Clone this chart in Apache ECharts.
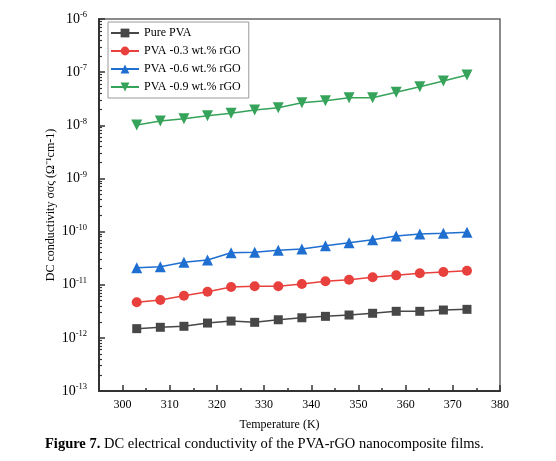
<!DOCTYPE html>
<html>
<head>
<meta charset="utf-8">
<script src="https://cdn.jsdelivr.net/npm/echarts@6/dist/echarts.min.js"></script>
<style>html,body{margin:0;padding:0;background:#fff;}#c{width:556px;height:461px;}</style>
</head>
<body>
<div id="c"></div>
<script>
var temperatures = [303, 308, 313, 318, 323, 328, 333, 338, 343, 348, 353, 358, 363, 368, 373];
var purePVA = [1.49e-12, 1.58e-12, 1.65e-12, 1.90e-12, 2.07e-12, 1.96e-12, 2.19e-12, 2.39e-12, 2.54e-12, 2.69e-12, 2.90e-12, 3.16e-12, 3.16e-12, 3.34e-12, 3.44e-12];
var pva03 = [4.67e-12, 5.16e-12, 6.21e-12, 7.38e-12, 9.05e-12, 9.33e-12, 9.33e-12, 1.03e-11, 1.16e-11, 1.24e-11, 1.38e-11, 1.50e-11, 1.64e-11, 1.73e-11, 1.83e-11];
var pva06 = [2.09e-11, 2.18e-11, 2.64e-11, 2.92e-11, 4.00e-11, 4.07e-11, 4.44e-11, 4.70e-11, 5.42e-11, 6.17e-11, 7.03e-11, 8.24e-11, 8.99e-11, 9.27e-11, 9.68e-11];
var pva09 = [1.01e-8, 1.20e-8, 1.33e-8, 1.51e-8, 1.68e-8, 1.94e-8, 2.14e-8, 2.66e-8, 2.90e-8, 3.30e-8, 3.30e-8, 4.18e-8, 5.32e-8, 6.80e-8, 8.83e-8];
var seriesNames = ['Pure PVA', 'PVA -0.3 wt.% rGO', 'PVA -0.6 wt.% rGO', 'PVA -0.9 wt.% rGO'];
var xTickLabels = [300, 310, 320, 330, 340, 350, 360, 370, 380];
var xMinorTicks = [305, 315, 325, 335, 345, 355, 365, 375];
var yDecadeExponents = [-13, -12, -11, -10, -9, -8, -7, -6];

var yMinor = [];
for (var n = -13; n < -6; n++) {
  for (var k = 2; k <= 9; k++) yMinor.push(n + Math.log10(k));
}
function pairs(vals) { return temperatures.map(function (t, i) { return [t, vals[i]]; }); }

var serif = '"Liberation Serif","Times New Roman",serif';
var colors = ['#474747', '#e8413d', '#1f6fd1', '#36a35a'];
var chart = echarts.init(document.getElementById('c'), null, {renderer: 'canvas'});
var lineCol = '#333';
chart.setOption({
  animation: false,
  textStyle: {fontFamily: serif},
  title: {
    left: 40, top: 432,
    text: '{b|Figure 7.} DC electrical conductivity of the PVA-rGO nanocomposite films.',
    textStyle: {
      fontFamily: serif, fontSize: 14.5, fontWeight: 'normal', color: '#000',
      rich: {b: {fontFamily: serif, fontSize: 14.5, fontWeight: 'bold', color: '#000'}}
    }
  },
  grid: {left: 99, right: 56, top: 19, bottom: 70, show: true, borderColor: '#666', borderWidth: 1.5, backgroundColor: 'transparent'},
  legend: {
    left: 108, top: 22, orient: 'vertical',
    data: seriesNames,
    itemWidth: 28, itemHeight: 11, itemGap: 6,
    borderColor: '#999', borderWidth: 1, padding: [5, 8, 5, 2],
    textStyle: {fontFamily: serif, fontSize: 12, color: '#000'}
  },
  xAxis: [{
    type: 'value', min: 295, max: 380,
    name: 'Temperature (K)', nameLocation: 'middle', nameGap: 28,
    nameTextStyle: {fontFamily: serif, fontSize: 12, color: '#000', padding: [0, 40, 0, 0]},
    axisLine: {show: true, lineStyle: {color: lineCol, width: 2}},
    axisTick: {inside: true, length: 6, customValues: xTickLabels, lineStyle: {color: lineCol, width: 1.5}},
    axisLabel: {customValues: xTickLabels, margin: 8, fontFamily: serif, fontSize: 12, color: '#000'},
    splitLine: {show: false}
  }, {
    type: 'value', min: 295, max: 380, position: 'bottom',
    axisLine: {show: false},
    axisTick: {inside: true, length: 3, customValues: xMinorTicks, lineStyle: {color: lineCol, width: 1.5}},
    axisLabel: {show: false},
    splitLine: {show: false}
  }],
  yAxis: [{
    type: 'log', logBase: 10, min: 1e-13, max: 1e-6, show: false,
    splitLine: {show: false}
  }, {
    type: 'value', min: -13, max: -6, interval: 1, position: 'left',
    name: 'DC conductivity σσς (Ω⁻¹cm-1)', nameLocation: 'middle', nameGap: 42,
    nameMoveOverlap: false,
    nameTextStyle: {fontFamily: serif, fontSize: 12, color: '#000'},
    axisLine: {show: true, lineStyle: {color: lineCol, width: 2}},
    axisTick: {inside: true, length: 6, customValues: yDecadeExponents, lineStyle: {color: lineCol, width: 1.5}},
    axisLabel: {
      customValues: yDecadeExponents, margin: 12,
      formatter: function (v) { return '{b|10}{s|' + Math.round(v) + '}'; },
      rich: {
        b: {fontFamily: serif, fontSize: 14, color: '#000'},
        s: {fontFamily: serif, fontSize: 8.5, color: '#000', verticalAlign: 'top', padding: [0, 0, 8, 0]}
      }
    },
    splitLine: {show: false}
  }, {
    type: 'value', min: -13, max: -6, interval: 1, position: 'left',
    axisLine: {show: false},
    axisTick: {inside: true, length: 3, customValues: yMinor, lineStyle: {color: lineCol, width: 1.2}},
    axisLabel: {show: false},
    splitLine: {show: false}
  }],
  series: [
    {name: seriesNames[0], type: 'line', data: pairs(purePVA), symbol: 'rect', symbolSize: 9, color: colors[0], lineStyle: {width: 1.5}},
    {name: seriesNames[1], type: 'line', data: pairs(pva03), symbol: 'circle', symbolSize: 10, color: colors[1], lineStyle: {width: 1.5}},
    {name: seriesNames[2], type: 'line', data: pairs(pva06), symbol: 'triangle', symbolSize: 11, color: colors[2], lineStyle: {width: 1.5}},
    {name: seriesNames[3], type: 'line', data: pairs(pva09), symbol: 'triangle', symbolRotate: 180, symbolSize: 11, color: colors[3], lineStyle: {width: 1.5}}
  ]
});
</script>
</body>
</html>
